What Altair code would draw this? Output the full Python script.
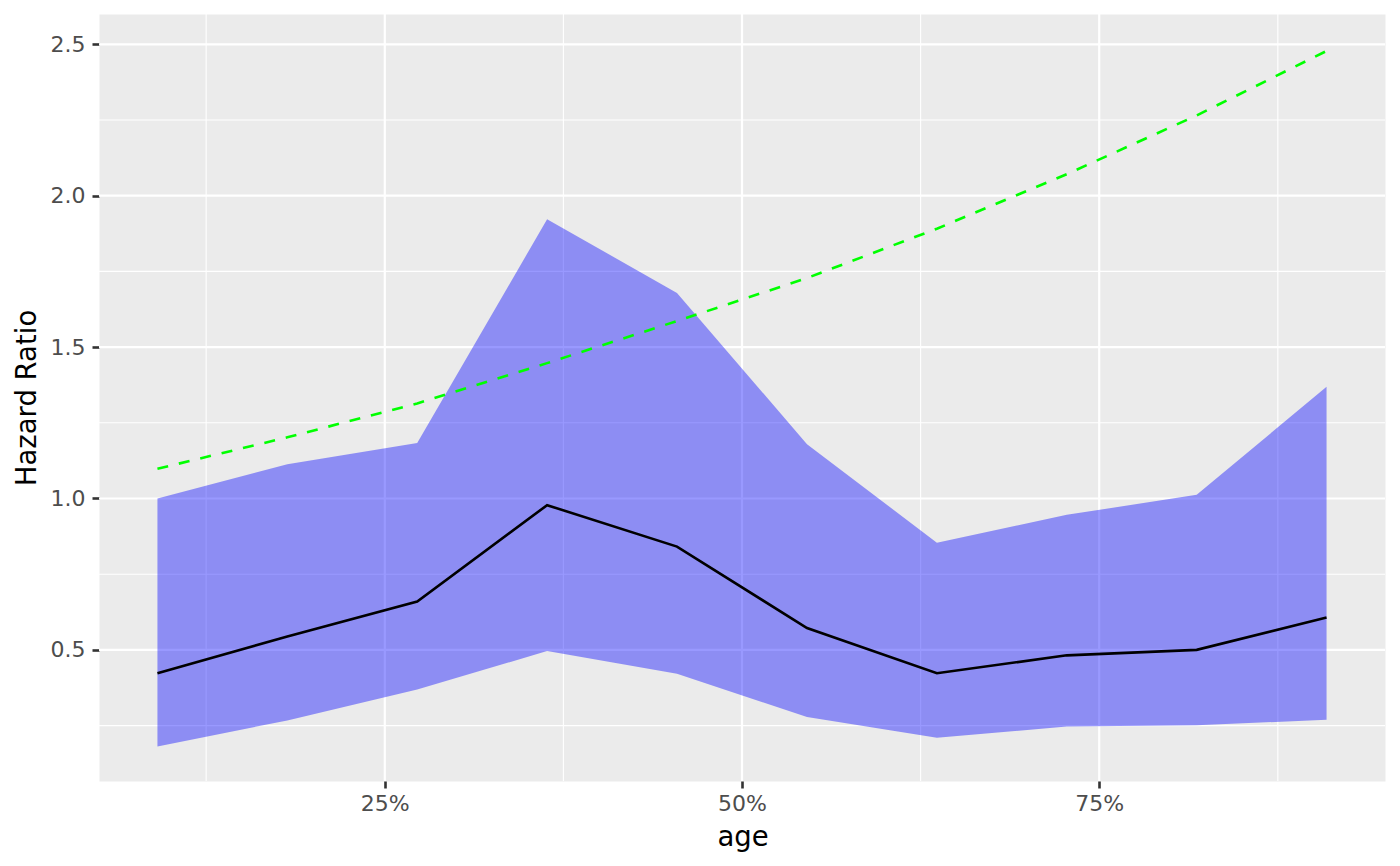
import altair as alt
import pandas as pd

# quantile positions of age (x) and estimates
age_q = [0.0909, 0.1818, 0.2727, 0.3636, 0.4545, 0.5455, 0.6364, 0.7273, 0.8182, 0.9091]
hr = [0.423, 0.544, 0.660, 0.978, 0.841, 0.572, 0.423, 0.482, 0.500, 0.607]
hr_lower = [0.181, 0.267, 0.369, 0.496, 0.421, 0.278, 0.210, 0.247, 0.251, 0.269]
hr_upper = [1.000, 1.113, 1.183, 1.922, 1.679, 1.179, 0.854, 0.946, 1.012, 1.369]
reference = [1.098, 1.202, 1.314, 1.447, 1.586, 1.728, 1.891, 2.071, 2.265, 2.478]

x_major = [0.25, 0.5, 0.75]
x_minor = [0.125, 0.375, 0.625, 0.875]
y_major = [0.5, 1.0, 1.5, 2.0, 2.5]
y_minor = [0.25, 0.75, 1.25, 1.75, 2.25]

df = pd.DataFrame({"age": age_q, "hr": hr, "lower": hr_lower,
                   "upper": hr_upper, "ref": reference})
xmaj = pd.DataFrame({"v": x_major})
xmin = pd.DataFrame({"v": x_minor})
ymaj = pd.DataFrame({"v": y_major})
ymin = pd.DataFrame({"v": y_minor})

FONT = "DejaVu Sans"
W, H = 1286, 767

xscale = alt.Scale(domain=[0.05, 0.95], nice=False, zero=False)
yscale = alt.Scale(domain=[0.067, 2.6], nice=False, zero=False)

xaxis = alt.Axis(values=x_major, format=".0%", title="age", grid=False,
                 domain=False, labelFont=FONT, labelFontSize=22,
                 labelColor="#4D4D4D", tickColor="#333333", tickWidth=2.6,
                 tickSize=7, labelPadding=5, titleFont=FONT, titleFontSize=27.5,
                 titleColor="black", titleFontWeight="normal",
                 titleX=W / 2 + 0.5, titleY=64, titleBaseline="alphabetic",
                 titleAlign="center")
yaxis = alt.Axis(values=y_major, format=".1f", title="Hazard Ratio", grid=False,
                 domain=False, labelFont=FONT, labelFontSize=22,
                 labelColor="#4D4D4D", tickColor="#333333", tickWidth=2.6,
                 tickSize=7, labelPadding=7, titleFont=FONT, titleFontSize=27.5,
                 titleColor="black", titleFontWeight="normal",
                 titleX=-64, titleY=H / 2, titleAngle=270,
                 titleBaseline="alphabetic", titleAlign="center")


def X(field):
    return alt.X(field, type="quantitative", scale=xscale, axis=xaxis)


def Y(field):
    return alt.Y(field, type="quantitative", scale=yscale, axis=yaxis)


grid_minor_x = alt.Chart(xmin).mark_rule(color="white", strokeWidth=1.1).encode(x=X("v"))
grid_minor_y = alt.Chart(ymin).mark_rule(color="white", strokeWidth=1.1).encode(y=Y("v"))
grid_major_x = alt.Chart(xmaj).mark_rule(color="white", strokeWidth=2.2).encode(x=X("v"))
grid_major_y = alt.Chart(ymaj).mark_rule(color="white", strokeWidth=2.2).encode(y=Y("v"))

band = alt.Chart(df).mark_area(color="#0000FF", opacity=0.4).encode(
    x=X("age"), y=Y("lower"), y2="upper")
line = alt.Chart(df).mark_line(color="black", strokeWidth=2.6).encode(
    x=X("age"), y=Y("hr"))
refline = alt.Chart(df).mark_line(color="#00FF00", strokeWidth=2.6,
                                   strokeDash=[11, 11]).encode(
    x=X("age"), y=Y("ref"))

chart = alt.layer(grid_minor_x, grid_minor_y, grid_major_x, grid_major_y,
                  band, line, refline).properties(
    width=W, height=H,
    autosize=alt.AutoSizeParams(type="none"),
    padding={"left": 91, "top": 6, "right": 7, "bottom": 77},
    background="white",
).configure_view(fill="#EBEBEB", stroke="transparent")

chart.save("out.html", embed_options={"renderer": "svg", "actions": False})
